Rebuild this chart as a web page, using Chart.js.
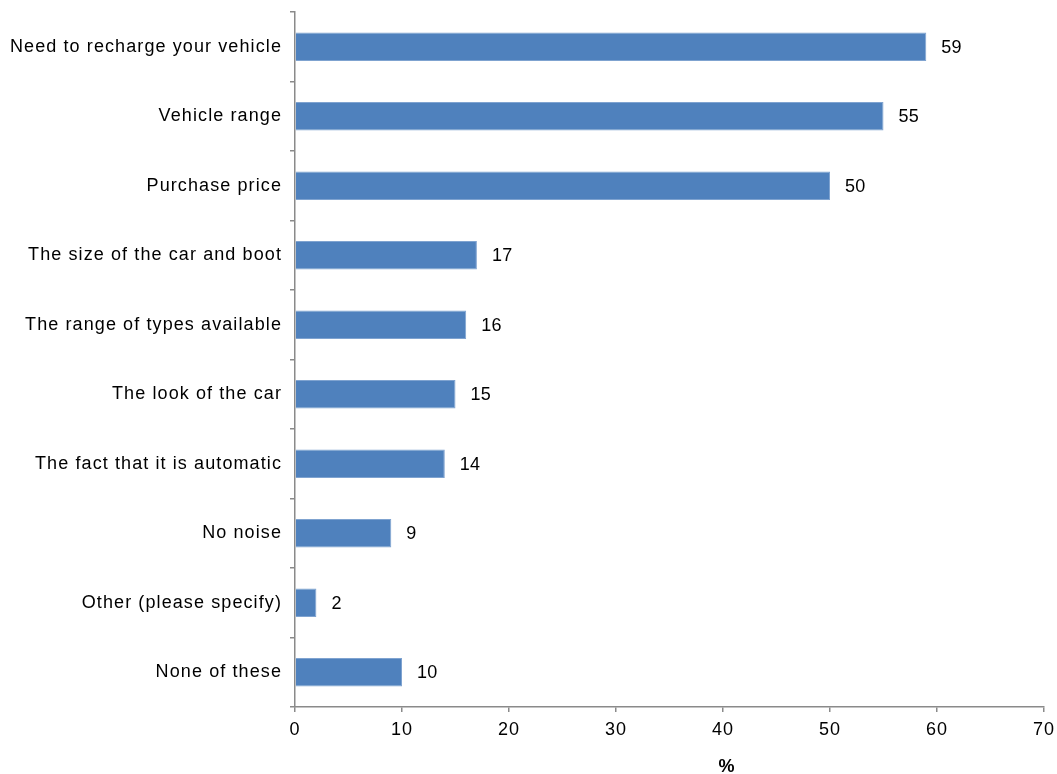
<!DOCTYPE html>
<html>
<head>
<meta charset="utf-8">
<script src="https://cdn.jsdelivr.net/npm/chart.js@4"></script>
<style>
    html, body { margin: 0; padding: 0; background: #fff; }
    #wrap { width: 1057px; height: 774px; }
</style>
</head>
<body>
<div id="wrap"><canvas id="barChart"></canvas></div>
<script>
const reasons = [
    'Need to recharge your vehicle',
    'Vehicle range',
    'Purchase price',
    'The size of the car and boot',
    'The range of types available',
    'The look of the car',
    'The fact that it is automatic',
    'No noise',
    'Other (please specify)',
    'None of these'
];
const percentages = [59, 55, 50, 17, 16, 15, 14, 9, 2, 10];
const xTicks = [0, 10, 20, 30, 40, 50, 60, 70];
const axisTitle = '%';

const fontFamily = '"Liberation Sans", Arial, sans-serif';
const axisGrey = '#8a8a8a';

// Lite luftigare text i hela diagrammet
const spacing = {
    id: 'spacing',
    beforeDraw(chart) {
        chart.ctx.letterSpacing = '1.1px';
    }
};

// Skriver värdet till höger om varje stapel
const valueLabels = {
    id: 'valueLabels',
    afterDatasetsDraw(chart) {
        const ctx = chart.ctx;
        const meta = chart.getDatasetMeta(0);
        ctx.save();
        ctx.letterSpacing = '0.3px';
        ctx.font = '18px ' + fontFamily;
        ctx.fillStyle = '#000';
        ctx.textAlign = 'left';
        ctx.textBaseline = 'middle';
        meta.data.forEach((bar, i) => {
            ctx.fillText(String(percentages[i]), bar.x + 15, bar.y + 1);
        });
        ctx.restore();
    }
};

// Axeltiteln under x-axeln
const xTitle = {
    id: 'xTitle',
    afterDraw(chart) {
        const ctx = chart.ctx;
        const x = chart.scales.x.getPixelForValue(40) + 4;
        ctx.save();
        ctx.font = 'bold 18px ' + fontFamily;
        ctx.fillStyle = '#000';
        ctx.textAlign = 'center';
        ctx.textBaseline = 'middle';
        ctx.fillText(axisTitle, x, 767);
        ctx.restore();
    }
};

function createChart(canvasId) {
    const ctx = document.getElementById(canvasId);
    new Chart(ctx, {
        type: 'bar',
        data: {
            labels: reasons,
            datasets: [{
                data: percentages,
                backgroundColor: '#4f81bd',
                borderColor: '#7fa3d0',
                borderWidth: 1,
                categoryPercentage: 1,
                barPercentage: 0.41
            }]
        },
        options: {
            indexAxis: 'y',
            responsive: true,
            maintainAspectRatio: false,
            animation: false,
            layout: {
                padding: { top: 12, right: 13, left: 0, bottom: 0 }
            },
            scales: {
                x: {
                    min: 0,
                    max: 70,
                    afterBuildTicks(scale) {
                        scale.ticks = xTicks.map(v => ({ value: v }));
                    },
                    afterFit(scale) {
                        scale.height = 774 - 707;
                        scale.paddingLeft = 0;
                        scale.paddingRight = 0;
                    },
                    grid: {
                        drawOnChartArea: false,
                        drawTicks: true,
                        tickLength: 5,
                        color: axisGrey,
                        lineWidth: 1.5
                    },
                    border: { display: true, color: axisGrey, width: 1.5 },
                    ticks: {
                        color: '#000',
                        padding: 7,
                        maxRotation: 0,
                        font: { family: fontFamily, size: 18 }
                    }
                },
                y: {
                    afterFit(scale) {
                        scale.width = 295;
                        scale.paddingTop = 0;
                        scale.paddingBottom = 0;
                    },
                    grid: {
                        offset: true,
                        drawOnChartArea: false,
                        drawTicks: true,
                        tickLength: 5,
                        color: axisGrey,
                        lineWidth: 1.5
                    },
                    border: { display: true, color: axisGrey, width: 1.5 },
                    ticks: {
                        color: '#000',
                        padding: 8,
                        autoSkip: false,
                        font: { family: fontFamily, size: 18 }
                    }
                }
            },
            plugins: {
                legend: { display: false },
                tooltip: { enabled: false }
            }
        },
        plugins: [spacing, valueLabels, xTitle]
    });
}

window.onload = () => createChart('barChart');
</script>
</body>
</html>
